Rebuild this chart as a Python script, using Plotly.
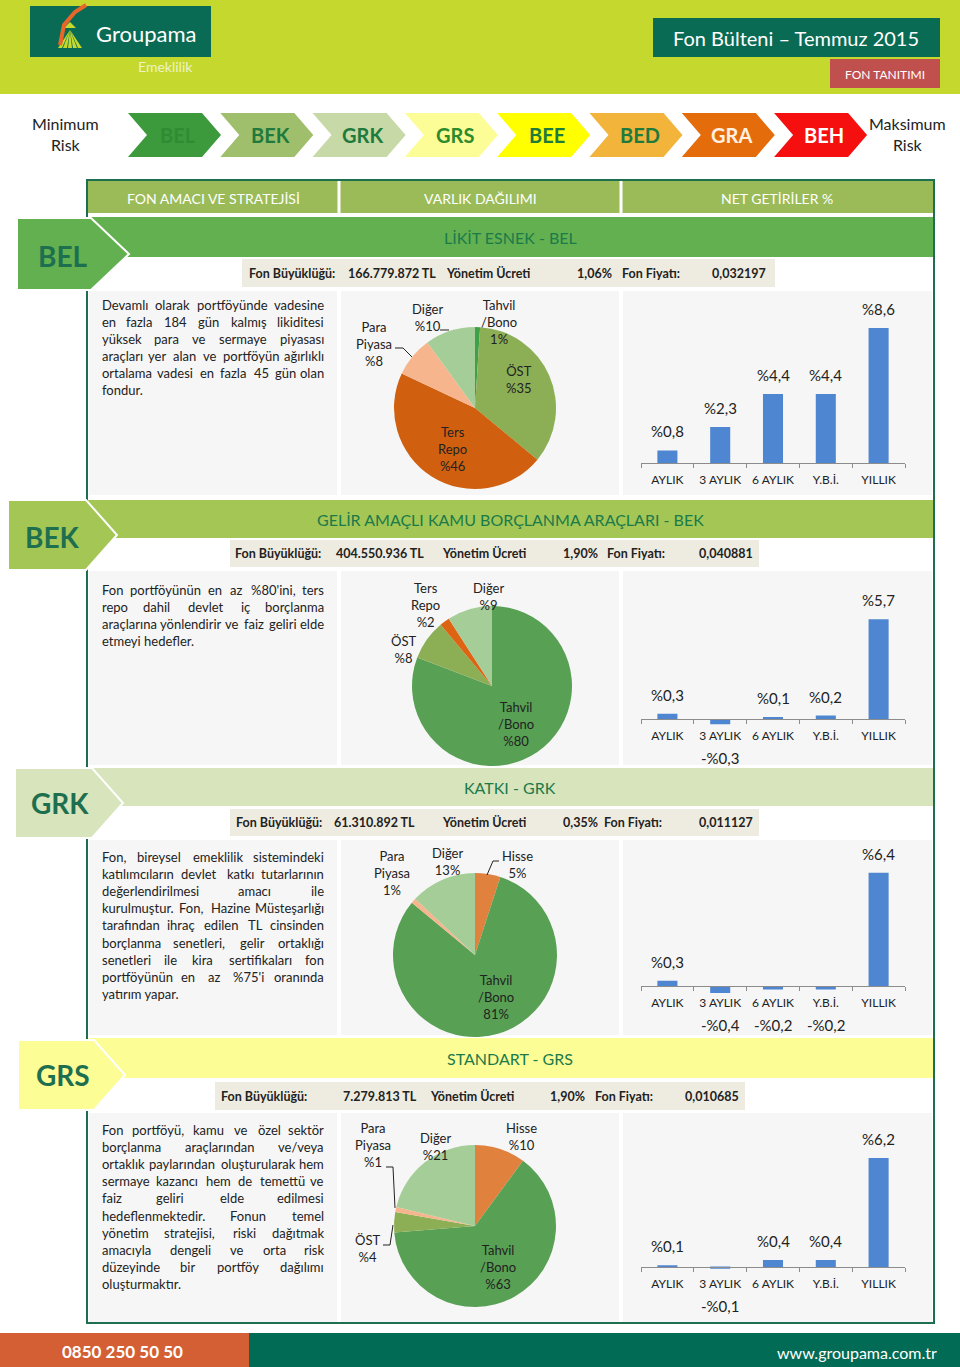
import plotly.graph_objects as go

W, H = 960, 1367
def X(x): return x / W
def Y(y): return 1 - y / H

# ---------------- data ----------------
risk_codes = ["BEL", "BEK", "GRK", "GRS", "BEE", "BED", "GRA", "BEH"]
column_titles = ["FON AMACI VE STRATEJİSİ", "VARLIK DAĞILIMI", "NET GETİRİLER %"]

fund_codes = ["BEL", "BEK", "GRK", "GRS"]
fund_titles = ["LİKİT ESNEK - BEL", "GELİR AMAÇLI KAMU BORÇLANMA ARAÇLARI - BEK",
               "KATKI - GRK", "STANDART - GRS"]
fund_sizes = ["166.779.872 TL", "404.550.936 TL", "61.310.892 TL", "7.279.813 TL"]
fund_fees = ["1,06%", "1,90%", "0,35%", "1,90%"]
fund_prices = ["0,032197", "0,040881", "0,011127", "0,010685"]

return_periods = ["AYLIK", "3 AYLIK", "6 AYLIK", "Y.B.İ.", "YILLIK"]
bel_returns = [0.8, 2.3, 4.4, 4.4, 8.6]
bek_returns = [0.3, -0.3, 0.1, 0.2, 5.7]
grk_returns = [0.3, -0.4, -0.2, -0.2, 6.4]
grs_returns = [0.1, -0.1, 0.4, 0.4, 6.2]

bel_assets = ["Tahvil/Bono", "ÖST", "Ters Repo", "Para Piyasa", "Diğer"]
bel_weights = [1, 35, 46, 8, 10]
bel_labels = ["Tahvil<br>/Bono<br>1%", "ÖST<br>%35", "Ters<br>Repo<br>%46", "Para<br>Piyasa<br>%8", "Diğer<br>%10"]

bek_assets = ["Tahvil/Bono", "ÖST", "Ters Repo", "Diğer"]
bek_weights = [80, 8, 2, 9]
bek_labels = ["Tahvil<br>/Bono<br>%80", "ÖST<br>%8", "Ters<br>Repo<br>%2", "Diğer<br>%9"]

grk_assets = ["Hisse", "Tahvil/Bono", "Para Piyasa", "Diğer"]
grk_weights = [5, 81, 1, 13]
grk_labels = ["Hisse<br>5%", "Tahvil<br>/Bono<br>81%", "Para<br>Piyasa<br>1%", "Diğer<br>13%"]

grs_assets = ["Hisse", "Tahvil/Bono", "ÖST", "Para Piyasa", "Diğer"]
grs_weights = [10, 63, 4, 1, 21]
grs_labels = ["Hisse<br>%10", "Tahvil<br>/Bono<br>%63", "ÖST<br>%4", "Para<br>Piyasa<br>%1", "Diğer<br>%21"]

bel_text = ["Devamlı olarak portföyünde vadesine", "en fazla 184 gün kalmış likiditesi",
            "yüksek para ve sermaye piyasası", "araçları yer alan ve portföyün ağırlıklı",
            "ortalama vadesi en fazla 45 gün olan", "fondur."]
bek_text = ["Fon portföyünün en az %80'ini, ters", "repo dahil devlet iç borçlanma",
            "araçlarına yönlendirir ve faiz geliri elde", "etmeyi hedefler."]
grk_text = ["Fon, bireysel emeklilik sistemindeki", "katılımcıların devlet katkı tutarlarının",
            "değerlendirilmesi amacı ile", "kurulmuştur. Fon, Hazine Müsteşarlığı",
            "tarafından ihraç edilen TL cinsinden", "borçlanma senetleri, gelir ortaklığı",
            "senetleri ile kira sertifikaları fon", "portföyünün en az %75'i oranında",
            "yatırım yapar."]
grs_text = ["Fon portföyü, kamu ve özel sektör", "borçlanma araçlarından ve/veya",
            "ortaklık paylarından oluşturularak hem", "sermaye kazancı hem de temettü ve",
            "faiz geliri elde edilmesi", "hedeflenmektedir. Fonun temel",
            "yönetim stratejisi, riski dağıtmak", "amacıyla dengeli ve orta risk",
            "düzeyinde bir portföy dağılımı", "oluşturmaktır."]

# ---------------- style ----------------
FONT = "Lato, 'Open Sans', sans-serif"
COL_TAHVIL = "#58a054"
COL_TAHVIL_BEL = "#3fa047"
COL_OST = "#8cae55"
COL_REPO = "#d0600f"
COL_PARA = "#f7b58d"
COL_DIGER = "#a5cd97"
COL_HISSE = "#e0823e"
BAR = "#4f86d1"
DKGREEN = "#1d6f4f"

shapes = []
annotations = []

def rect(x0, y0, x1, y1, fill, line=None, lw=0, layer="below"):
    shapes.append(dict(type="rect", xref="paper", yref="paper", x0=X(x0), x1=X(x1), y0=Y(y1), y1=Y(y0),
                       fillcolor=fill, line=dict(color=line or fill, width=lw), layer=layer))

def poly(pts, fill, line=None, lw=0, layer="below"):
    path = "M " + " L ".join(f"{X(x):.5f},{Y(y):.5f}" for x, y in pts) + " Z"
    shapes.append(dict(type="path", xref="paper", yref="paper", path=path, fillcolor=fill,
                       line=dict(color=line or fill, width=lw), layer=layer))

def seg(pts, color="#222", lw=1):
    path = "M " + " L ".join(f"{X(x):.5f},{Y(y):.5f}" for x, y in pts)
    shapes.append(dict(type="path", xref="paper", yref="paper", path=path,
                       line=dict(color=color, width=lw), layer="above"))

def txt(x, y, s, size=13, color="#222", family=FONT, xa="center", ya="middle", bold=False):
    if bold:
        s = f"<b>{s}</b>"
    annotations.append(dict(x=X(x), y=Y(y), xref="paper", yref="paper", text=s, showarrow=False,
                            xanchor=xa, yanchor=ya, font=dict(size=size, color=color, family=family)))

# ---------------- header ----------------
rect(0, 0, 960, 94, "#c4d82e")
rect(30, 6, 211, 57, "#0a6b54")
for a, b in [(58, 62), (63, 67), (68, 72), (73, 77), (78, 82)]:
    poly([(70, 30), (a, 48), (b, 48)], "#c4d82e")
poly([(64, 28), (76, 28), (70, 22)], "#c4d82e")
seg([(60, 45), (64, 25), (75, 12), (86, 5)], "#e8662a", 4)
txt(146, 33, "Groupama", 22, "white")
txt(165, 66, "Emeklilik", 14, "#eef3c8")
rect(653, 18, 940, 57, "#0a6b54")
txt(796, 38, "Fon Bülteni – Temmuz 2015", 20, "white")
rect(830, 59, 940, 88, "#c0504d")
txt(885, 74, "FON TANITIMI", 12, "white")

# ---------------- risk scale ----------------
risk_fill = ["#3c9a3c", "#a0bf6c", "#c6d9a6", "#fdfd98", "#ffff00", "#f2b43a", "#e46c0a", "#f50f0f"]
risk_txt = ["#2f8c33", "#1f7a3d", "#1f7a3d", "#2d8a2d", "#1f7a3d", "#1f7a3d", "#fff0e0", "#ffffff"]
for i, code in enumerate(risk_codes):
    L = 128 + i * 92.3
    poly([(L, 113), (L + 74, 113), (L + 93, 135), (L + 74, 157), (L, 157), (L + 19, 135)], risk_fill[i])
    txt(L + 50, 135, code, 20, risk_txt[i], bold=True)
txt(65, 134, "Minimum<br>Risk", 16, "#222")
txt(907, 134, "Maksimum<br>Risk", 16, "#222")

# ---------------- table frame ----------------
rect(88, 181, 933, 213, "#9bbb59")
for xx in (339, 621):
    rect(xx - 1.5, 181, xx + 1.5, 213, "white")
for cx, t in zip((213, 480, 777), column_titles):
    txt(cx, 198, t, 14, "white")

sections = [
    dict(b=(217, 257), i=(259, 287), ix=(242, 775), body=(291, 495), col="#63b050",
         tab=[(17, 218), (91, 218), (129, 254), (91, 290), (17, 290)], tp=(63, 256),
         info=[292, 392, 488, 594, 651, 739], text=bel_text, ty=305),
    dict(b=(500, 538), i=(540, 567), ix=(230, 759), body=(571, 765), col="#a3c655",
         tab=[(8, 500), (86, 500), (117, 535), (86, 570), (8, 570)], tp=(52, 537),
         info=[278, 380, 484, 580, 636, 726], text=bek_text, ty=590),
    dict(b=(768, 806), i=(809, 836), ix=(230, 759), body=(840, 1035), col="#d7e4bc",
         tab=[(15, 768), (92, 768), (123, 803), (92, 838), (15, 838)], tp=(60, 803),
         info=[279, 374, 484, 580, 633, 726], text=grk_text, ty=857),
    dict(b=(1038, 1078), i=(1082, 1110), ix=(215, 745), body=(1113, 1322), col="#fdfd96",
         tab=[(18, 1040), (94, 1040), (125, 1075), (94, 1110), (18, 1110)], tp=(63, 1075),
         info=[264, 380, 472, 567, 624, 712], text=grs_text, ty=1130),
]

def cw(c):
    if c == " ": return 0.26
    if c in "iljıİI.,'!:;|": return 0.25
    if c in "frt/-": return 0.35
    if c in "mw": return 0.8
    if c == "%": return 0.78
    if c in "MW": return 0.9
    if c.isupper(): return 0.66
    if c.isdigit(): return 0.58
    if c in "sşzcç": return 0.44
    return 0.53

def measure(s, size):
    return sum(cw(c) for c in s) * size

def paragraph(lines, x0, x1, y0, size=13, lh=17.1):
    for k, line in enumerate(lines):
        y = y0 + k * lh
        words = line.split(" ")
        if k == len(lines) - 1 or len(words) == 1:
            txt(x0, y, line, size, "#222", xa="left")
            continue
        ws = [measure(w, size) for w in words]
        gap = (x1 - x0 - sum(ws)) / (len(words) - 1)
        pos = x0
        for j, w in enumerate(words):
            if j == 0:
                txt(x0, y, w, size, "#222", xa="left")
            elif j == len(words) - 1:
                txt(x1, y, w, size, "#222", xa="right")
            else:
                txt(pos + ws[j] / 2, y, w, size, "#222")
            pos += ws[j] + gap

for k, s in enumerate(sections):
    by0, by1 = s["b"]
    rect(88, by0, 933, by1, s["col"])
    iy0, iy1 = s["i"]
    ix0, ix1 = s["ix"]
    rect(ix0, iy0, ix1, iy1, "#eeece1")
    y0, y1 = s["body"]
    rect(89, y0, 337, y1, "#f6f6f6")
    rect(341, y0, 619, y1, "#f6f6f6")
    rect(623, y0, 932, y1, "#f6f6f6")
    txt(510, (by0 + by1) / 2, fund_titles[k], 16, "#1b7a4a")
    iy = (iy0 + iy1) / 2
    vals = ["Fon Büyüklüğü:", fund_sizes[k], "Yönetim Ücreti", fund_fees[k], "Fon Fiyatı:", fund_prices[k]]
    for xx, v in zip(s["info"], vals):
        txt(xx, iy, v, 12.5, "#222", bold=True)
    paragraph(s["text"], 100, 326, s["ty"])

# outer frame first, then the tabs on top of it
rect(87, 180, 934, 1323, "rgba(0,0,0,0)", DKGREEN, 2, layer="above")
for k, s in enumerate(sections):
    poly(s["tab"], s["col"], "white", 2, layer="above")
    txt(s["tp"][0], s["tp"][1], fund_codes[k], 28, DKGREEN, bold=True)

# footer
rect(0, 1333, 249, 1367, "#d45f35")
rect(249, 1333, 960, 1367, "#016b55")
txt(123, 1351, "0850 250 50 50", 17, "white", bold=True)
txt(857, 1352, "www.groupama.com.tr", 16, "white")

# ---------------- pies ----------------
fig = go.Figure()
pies = [
    (bel_assets, bel_weights, [COL_TAHVIL_BEL, COL_OST, COL_REPO, COL_PARA, COL_DIGER], (475, 408, 81), bel_labels,
     [(499, 322), (519, 379), (452, 449), (374, 344), (427, 317)]),
    (bek_assets, bek_weights, [COL_TAHVIL, COL_OST, "#dc6413", COL_DIGER], (492, 686, 80), bek_labels,
     [(516, 724), (403, 649), (425, 605), (488, 597)]),
    (grk_assets, grk_weights, [COL_HISSE, COL_TAHVIL, COL_PARA, COL_DIGER], (475, 955, 82), grk_labels,
     [(517, 865), (496, 997), (392, 873), (447, 861)]),
    (grs_assets, grs_weights, [COL_HISSE, COL_TAHVIL, COL_OST, COL_PARA, COL_DIGER], (475, 1226, 81), grs_labels,
     [(521, 1136), (498, 1267), (367, 1248), (373, 1145), (435, 1146)]),
]
for assets, weights, cols, (cx, cy, r), labels, lpos in pies:
    fig.add_trace(go.Pie(labels=assets, values=weights, sort=False, direction="clockwise", rotation=0,
                         marker=dict(colors=cols, line=dict(width=0)), textinfo="none", hoverinfo="skip",
                         showlegend=False,
                         domain=dict(x=[X(cx - r), X(cx + r)], y=[Y(cy + r), Y(cy - r)])))
    for (lx, ly), lab in zip(lpos, labels):
        txt(lx, ly, lab, 13, "#222")

seg([(395, 348), (403, 348), (412, 357)])
seg([(440, 330), (449, 330)])
seg([(499, 861), (493, 861), (487, 875)])
seg([(386, 1167), (393, 1167), (395, 1208)])
seg([(383, 1245), (390, 1245), (393, 1225)])

# ---------------- bars ----------------
bars = [
    (bel_returns, 463, 15.7, -0.5, 9.0),
    (bek_returns, 719, 17.5, -0.5, 6.0),
    (grk_returns, 986, 17.7, -0.6, 6.6),
    (grs_returns, 1267, 17.6, -0.5, 6.5),
]
layout_axes = {}
for n, (vals, y0, s, lo, hi) in enumerate(bars, start=2):
    bottom_px = y0 - lo * s
    top_px = y0 - hi * s
    fig.add_trace(go.Bar(x=return_periods, y=vals, marker=dict(color=BAR, line=dict(width=0)),
                         xaxis=f"x{n}", yaxis=f"y{n}", hoverinfo="skip", showlegend=False))
    layout_axes[f"xaxis{n}"] = dict(domain=[X(641), X(905)], anchor="free", position=Y(y0),
                                    showline=True, linecolor="#8c8c8c", linewidth=1,
                                    ticks="outside", tickson="boundaries", ticklen=4, tickcolor="#8c8c8c",
                                    ticklabelstandoff=6,
                                    tickangle=0, tickfont=dict(size=12, color="#222", family=FONT),
                                    showgrid=False, zeroline=False, fixedrange=True)
    layout_axes[f"yaxis{n}"] = dict(domain=[Y(bottom_px), Y(top_px)], range=[lo, hi], anchor=f"x{n}",
                                    visible=False, showgrid=False, zeroline=False, fixedrange=True)
    for cat, v in zip(return_periods, vals):
        label = ("-" if v < 0 else "") + "%" + f"{abs(v):.1f}".replace(".", ",")
        if v >= 0:
            annotations.append(dict(x=cat, y=v, xref=f"x{n}", yref=f"y{n}", text=label, showarrow=False,
                                    yanchor="bottom", yshift=8, font=dict(size=15, color="#222", family=FONT)))
        else:
            annotations.append(dict(x=cat, y=0, xref=f"x{n}", yref=f"y{n}", text=label, showarrow=False,
                                    yanchor="middle", yshift=-39, font=dict(size=15, color="#222", family=FONT)))

fig.update_layout(width=W, height=H, margin=dict(l=0, r=0, t=0, b=0), paper_bgcolor="white",
                  plot_bgcolor="rgba(0,0,0,0)", bargap=0.62, shapes=shapes, annotations=annotations,
                  font=dict(family=FONT), showlegend=False, **layout_axes)
fig.write_html("out.html", config={"displayModeBar": False},
               post_script="document.body.style.margin='0';document.body.style.overflow='hidden';")
